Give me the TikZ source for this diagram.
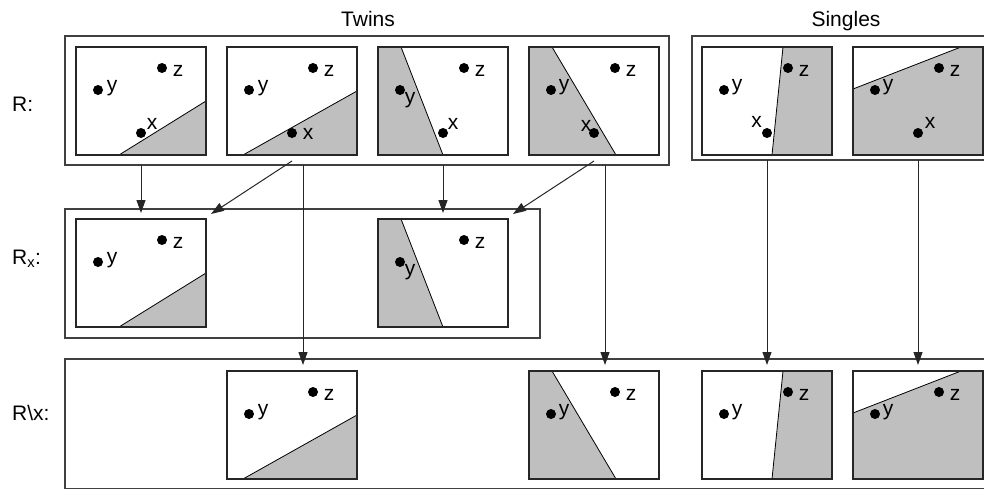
\documentclass[tikz,border=0pt]{standalone}
\usepackage{fontspec}
\setmainfont{Liberation Sans}
\usetikzlibrary{arrows.meta,calc}
\tikzstyle{grp}=[draw=black!75,line width=1.3pt,anchor=north west,inner sep=0pt,outer sep=0pt]
\tikzstyle{pane}=[draw=black!85,line width=1.1pt,anchor=north west,minimum width=130pt,minimum height=108pt,inner sep=0pt,outer sep=0pt]
\tikzstyle{half}=[fill=black!25,draw=black,line width=0.8pt]
\tikzstyle{spot}=[circle,fill=black,minimum size=10pt,inner sep=0pt]
\tikzstyle{lbl}=[anchor=base,inner sep=0pt]
\tikzstyle{rowlbl}=[anchor=base west,inner sep=0pt]
\tikzstyle{flow}=[-{Triangle[length=13pt,width=9pt]},draw=black!85,line width=1pt]

\begin{document}
\begin{tikzpicture}[x=1pt,y=-1pt,font=\fontsize{21}{25}\selectfont]
\clip (0,0) rectangle (984,490);
% shaded halves
\filldraw[half] (119,155)--(206,155)--(206,101)--cycle;
\filldraw[half] (243,155)--(357,155)--(357,91)--cycle;
\filldraw[half] (378,47)--(401,47)--(443,155)--(378,155)--cycle;
\filldraw[half] (529,47)--(552,47)--(616,155)--(529,155)--cycle;
\filldraw[half] (783,47)--(832,47)--(832,155)--(772,155)--cycle;
\filldraw[half] (853,89)--(961,47)--(983,47)--(983,155)--(853,155)--cycle;
\filldraw[half] (119,327)--(206,327)--(206,273)--cycle;
\filldraw[half] (378,219)--(401,219)--(443,327)--(378,327)--cycle;
\filldraw[half] (243,479)--(357,479)--(357,415)--cycle;
\filldraw[half] (529,371)--(552,371)--(616,479)--(529,479)--cycle;
\filldraw[half] (783,371)--(832,371)--(832,479)--(772,479)--cycle;
\filldraw[half] (853,413)--(961,371)--(983,371)--(983,479)--(853,479)--cycle;
% groups
\node[grp,minimum width=604pt,minimum height=129pt] (twins) at (65,36) {};
\node[grp,minimum width=301pt,minimum height=124pt] (singles) at (692,36) {};
\node[grp,minimum width=475pt,minimum height=129pt] (rx) at (65,209) {};
\node[grp,minimum width=928pt,minimum height=129.5pt] (rminus) at (65,359) {};
\node[lbl] (twinstxt) at (368,26) {Twins};
\node[lbl] (singlestxt) at (846,26) {Singles};
\node[rowlbl] (rlab) at (12,111) {R:};
\node[rowlbl] (rxlab) at (12,264) {R\textsubscript{x}:};
\node[rowlbl] (rmlab) at (12,420) {R\textbackslash x:};
% panels
\node[pane] (P1) at (76,47) {};
\node[pane] (P2) at (227,47) {};
\node[pane] (P3) at (378,47) {};
\node[pane] (P4) at (529,47) {};
\node[pane] (P5) at (702,47) {};
\node[pane] (P6) at (853,47) {};
\node[pane] (M1) at (76,219) {};
\node[pane] (M2) at (378,219) {};
\node[pane] (B1) at (227,371) {};
\node[pane] (B2) at (529,371) {};
\node[pane] (B3) at (702,371) {};
\node[pane] (B4) at (853,371) {};
% points
\node[spot] (y1) at (98,90) {};\node[lbl] (ly1) at (112,91) {y};
\node[spot] (z1) at (162,68) {};\node[lbl] (lz1) at (178,76) {z};
\node[spot] (x1) at (141,133) {};\node[lbl] (lx1) at (152,129.5) {x};
\node[spot] (y2) at (249,90) {};\node[lbl] (ly2) at (263,91) {y};
\node[spot] (z2) at (313,68) {};\node[lbl] (lz2) at (329,76) {z};
\node[spot] (x2) at (292,133) {};\node[lbl] (lx2) at (308,139.5) {x};
\node[spot] (y3) at (400,90) {};\node[lbl] (ly3) at (410,103.5) {y};
\node[spot] (z3) at (464,68) {};\node[lbl] (lz3) at (480,76) {z};
\node[spot] (x3) at (443,133) {};\node[lbl] (lx3) at (453,129.5) {x};
\node[spot] (y4) at (551,90) {};\node[lbl] (ly4) at (564,90.5) {y};
\node[spot] (z4) at (615,68) {};\node[lbl] (lz4) at (631,76) {z};
\node[spot] (x4) at (594,133) {};\node[lbl] (lx4) at (586,131.5) {x};
\node[spot] (y5) at (724,90) {};\node[lbl] (ly5) at (737,90.5) {y};
\node[spot] (z5) at (788,68) {};\node[lbl] (lz5) at (804,76.5) {z};
\node[spot] (x5) at (767,133) {};\node[lbl] (lx5) at (756.5,127.5) {x};
\node[spot] (y6) at (875,90) {};\node[lbl] (ly6) at (888,90.5) {y};
\node[spot] (z6) at (939,68) {};\node[lbl] (lz6) at (955,76.5) {z};
\node[spot] (x6) at (918,133) {};\node[lbl] (lx6) at (930,128) {x};
\node[spot] (my1) at (98,262) {};\node[lbl] (lmy1) at (112,263) {y};
\node[spot] (mz1) at (162,240) {};\node[lbl] (lmz1) at (178,248) {z};
\node[spot] (my2) at (400,262) {};\node[lbl] (lmy2) at (410,275.5) {y};
\node[spot] (mz2) at (464,240) {};\node[lbl] (lmz2) at (480,248) {z};
\node[spot] (by1) at (249,414) {};\node[lbl] (lby1) at (263,415) {y};
\node[spot] (bz1) at (313,392) {};\node[lbl] (lbz1) at (329,400) {z};
\node[spot] (by2) at (551,414) {};\node[lbl] (lby2) at (564,415) {y};
\node[spot] (bz2) at (615,392) {};\node[lbl] (lbz2) at (631,400) {z};
\node[spot] (by3) at (724,414) {};\node[lbl] (lby3) at (737,415) {y};
\node[spot] (bz3) at (788,392) {};\node[lbl] (lbz3) at (804,400) {z};
\node[spot] (by4) at (875,414) {};\node[lbl] (lby4) at (888,415) {y};
\node[spot] (bz4) at (939,392) {};\node[lbl] (lbz4) at (955,400) {z};
% arrows
\coordinate (P2r) at ($(P2.south)+(11,0)$);
\coordinate (P4r) at ($(P4.south)+(11,0)$);
\draw[flow,shorten >=6pt] (P1.south |- twins.south) -- (M1.north);
\draw[flow] ($(P2.south)+(0,6)$) -- ($(M1.north east)+(5,-5)$);
\draw[flow,shorten >=6pt] (P2r |- twins.south) -- (P2r |- B1.north);
\draw[flow,shorten >=6pt] (P3.south |- twins.south) -- (M2.north);
\draw[flow] ($(P4.south)+(0,6)$) -- ($(M2.north east)+(5,-5)$);
\draw[flow,shorten >=6pt] (P4r |- twins.south) -- (P4r |- B2.north);
\draw[flow,shorten >=6pt] (P5.south |- singles.south) -- (B3.north);
\draw[flow,shorten >=6pt] (P6.south |- singles.south) -- (B4.north);
\end{tikzpicture}
\end{document}
